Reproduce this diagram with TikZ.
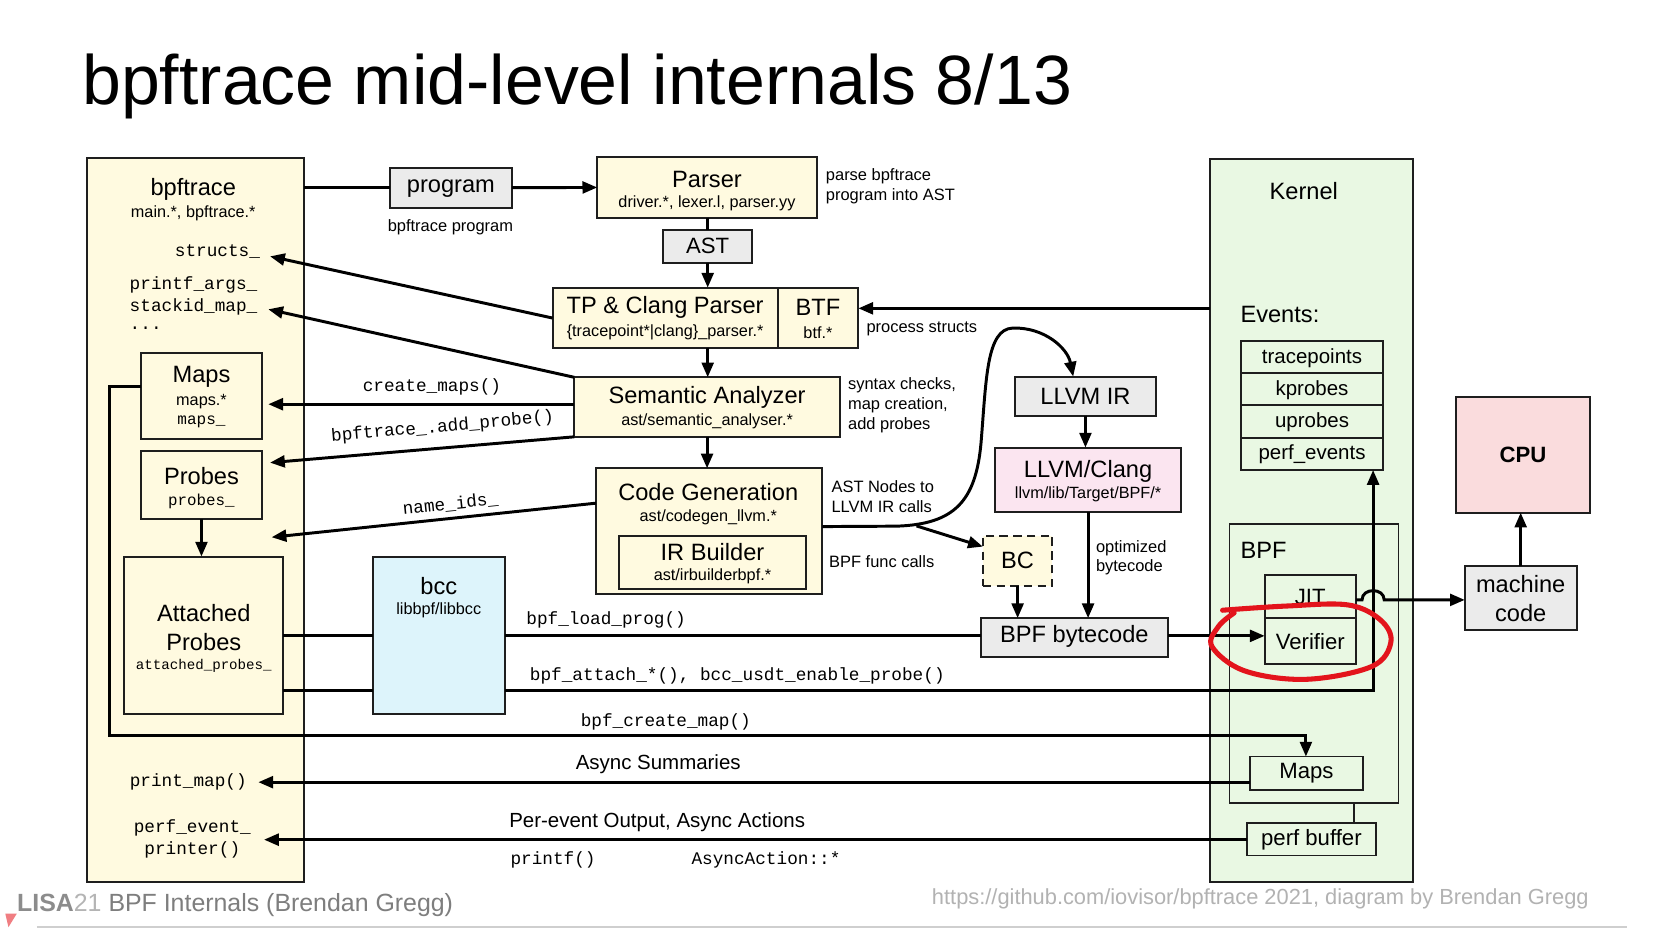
\documentclass[tikz,border=0pt]{standalone}
\usepackage{fontspec}
\setmainfont{Liberation Sans}
\setmonofont{Liberation Mono}
\usetikzlibrary{arrows.meta}
\definecolor{yel}{HTML}{FFFAE0}
\definecolor{gry}{HTML}{EBEBEB}
\definecolor{blu}{HTML}{DDF4FB}
\definecolor{grn}{HTML}{E9F8E3}
\definecolor{pnk}{HTML}{FBE5F0}
\definecolor{cpuc}{HTML}{FADCDD}
\definecolor{redc}{HTML}{E3141C}
\definecolor{edge}{HTML}{1E1E1E}
\definecolor{lisac}{HTML}{8C8C8C}
\definecolor{lisab}{HTML}{B4B4B4}
\definecolor{footc}{HTML}{7E7E7E}
\definecolor{urlc}{HTML}{B2B2B2}
\definecolor{rulec}{HTML}{CFCFCF}
\newcommand\fTitle{\fontsize{33.1pt}{37pt}\selectfont}
\newcommand\fMain{\fontsize{11.2pt}{13pt}\selectfont}
\newcommand\fSub{\fontsize{7.7pt}{9pt}\selectfont}
\newcommand\fMono{\fontsize{8.4pt}{10pt}\selectfont\ttfamily}
\newcommand\fNote{\fontsize{7.8pt}{9pt}\selectfont}
\newcommand\fMid{\fontsize{9.7pt}{11pt}\selectfont}
\newcommand\fKer{\fontsize{10.5pt}{12pt}\selectfont}
\begin{document}
\begin{tikzpicture}[x=0.5pt,y=-0.5pt,
  box/.style={draw=edge, line width=0.95pt, inner sep=0pt, outer sep=0pt},
  thinbox/.style={draw=edge, line width=0.8pt, inner sep=0pt, outer sep=0pt},
  lab/.style={inner sep=0pt, outer sep=0pt, text=black},
  conn/.style={draw=black, line width=1.4pt},
  arr/.style={conn, -{Triangle[length=7pt,width=5.6pt]}},
]
\useasboundingbox (0,0) rectangle (1568,882.6);
\fill[white] (0,0) rectangle (1568,882.6);

% title
\node[lab, anchor=base west, font=\fTitle] (title) at (78,99.5) {bpftrace mid-level internals 8/13};

% big containers
\node[box, fill=yel, minimum width=102.9pt, minimum height=342.9pt] (bpf) at (185.6,492.9) {};
\node[box, fill=grn, minimum width=96.3pt, minimum height=342.5pt] (kern) at (1243.3,493.2) {};

% boxes
\node[box, fill=gry, minimum width=57.8pt, minimum height=18.9pt] (prog) at (427.5,177.9) {};
\node[box, fill=yel, minimum width=104pt, minimum height=28.6pt] (parser) at (670.2,177.7) {};
\node[box, fill=gry, minimum width=42.2pt, minimum height=15.5pt] (ast) at (670.9,233.5) {};
\node[box, fill=yel, minimum width=106.7pt, minimum height=28.8pt] (tp) at (630.5,301.5) {};
\node[box, fill=yel, minimum width=38.3pt, minimum height=28.8pt] (btf) at (775.4,301.5) {};
\node[box, fill=yel, minimum width=125.9pt, minimum height=28.2pt] (sem) at (670.3,385.9) {};
\node[box, fill=yel, minimum width=107.3pt, minimum height=59.5pt] (cg) at (672.3,503.5) {};
\node[box, fill=yel, minimum width=88.7pt, minimum height=25.3pt] (irb) at (675.4,533) {};
\node[box, fill=yel, minimum width=57.7pt, minimum height=40.5pt] (maps) at (191,375.5) {};
\node[box, fill=yel, minimum width=57.7pt, minimum height=32pt] (probes) at (191,460) {};
\node[box, fill=yel, minimum width=75.4pt, minimum height=74.6pt] (att) at (193.2,602.2) {};
\node[box, fill=blu, minimum width=62.8pt, minimum height=74.3pt] (bcc) at (416,602.6) {};
\node[box, fill=gry, minimum width=67pt, minimum height=18.7pt] (llvmir) at (1029,375.7) {};
\node[box, fill=pnk, minimum width=88pt, minimum height=30.7pt] (clang) at (1031.5,455) {};
\node[box, fill=yel, dashed, dash pattern=on 4pt off 2.5pt, minimum width=33pt, minimum height=23.9pt] (bc) at (964.7,531.6) {};
\node[box, fill=gry, minimum width=88.8pt, minimum height=18.5pt] (bytecode) at (1018.5,604.5) {};
\node[box, fill=grn, minimum width=67.3pt, minimum height=15.3pt] (ev1) at (1243.8,338.5) {};
\node[box, fill=grn, minimum width=67.3pt, minimum height=15.3pt] (ev2) at (1243.8,369.1) {};
\node[box, fill=grn, minimum width=67.3pt, minimum height=15.3pt] (ev3) at (1243.8,399.7) {};
\node[box, fill=grn, minimum width=67.3pt, minimum height=15.3pt] (ev4) at (1243.8,430.3) {};
\node[thinbox, fill=grn, minimum width=80.2pt, minimum height=132.2pt] (bpfbox) at (1245.7,629.2) {};
\node[thinbox, fill=grn, minimum width=43.2pt, minimum height=20.6pt] (jit) at (1242.1,565.6) {};
\node[thinbox, fill=grn, minimum width=43.2pt, minimum height=21.8pt] (ver) at (1242.1,607.9) {};
\node[thinbox, fill=grn, minimum width=53.5pt, minimum height=15.8pt] (kmaps) at (1238.5,733) {};
\node[thinbox, fill=grn, minimum width=61.2pt, minimum height=15.3pt] (pbuf) at (1243.2,795.7) {};
\node[box, fill=gry, minimum width=53pt, minimum height=30.4pt] (mc) at (1441.6,566.9) {};
\node[box, fill=cpuc, minimum width=63.2pt, minimum height=55pt] (cpu) at (1443.9,431) {};

% named coordinates
\coordinate (structsTip) at (256,243);
\coordinate (stackTip) at (254.3,293.2);
\coordinate (cmTip) at (254.3,383.2);
\coordinate (apTip) at (256,438.6);
\coordinate (niTip) at (257.5,509.3);
\coordinate (niY) at (0,477);
\coordinate (pmTip) at (244.9,741.5);
\coordinate (peTip) at (250.3,796);
\coordinate (btfY) at (0,292.3);
\coordinate (mA) at (103.4,366);
\coordinate (mB) at (103.4,697.3);
\coordinate (mC) at (1238,697.3);
\coordinate (l1) at (0,602.8);
\coordinate (l2) at (0,654.7);
\coordinate (atC) at (1301.7,654.7);
\coordinate (split) at (868.9,498.6);
\coordinate (bcIn) at (931.7,518.2);
\coordinate (irIn) at (1017.4,357);
\coordinate (cgY) at (0,499.2);
\coordinate (hopY) at (0,568.7);
\coordinate (hopA) at (1291.2,568.7);
\coordinate (hopB) at (1312.2,568.7);

% connectors
\draw[conn] (bpf.east |- prog.west) -- (prog.west);
\draw[arr] (prog.east) -- (parser.west);
\draw[conn] (ast.north |- parser.south) -- (ast.north);
\draw[arr] (ast.south) -- (ast.south |- tp.north);
\draw[arr] (kern.west |- btfY) -- (btf.east |- btfY);
\draw[arr] (ast.south |- tp.south) -- (ast.south |- sem.north);
\draw[arr] (tp.west) -- (structsTip);
\draw[arr] (sem.north west) -- (stackTip);
\draw[arr] (sem.west |- cmTip) -- (cmTip);
\draw[arr] (sem.south west) -- (apTip);
\draw[arr] (sem.south) -- (sem.south |- cg.north);
\draw[arr] (cg.west |- niY) -- (niTip);
\draw[arr] (probes.south) -- (probes.south |- att.north);
\draw[arr] (maps.west |- mA) -- (mA) -- (mB) -- (mC) -- (kmaps.north -| mC);
\draw[conn] (att.east |- l1) -- (bcc.west |- l1);
\draw[conn] (att.east |- l2) -- (bcc.west |- l2);
\draw[conn] (bcc.east |- l1) -- (bytecode.west |- l1);
\draw[arr] (bcc.east |- l2) -- (atC) -- (atC |- ev4.south);
\draw[arr] (bytecode.east |- l1) -- (ver.west |- l1);
\draw[arr] (llvmir.south) -- (llvmir.south |- clang.north);
\draw[arr] (clang.south) -- (clang.south |- bytecode.north);
\draw[arr] (bc.south) -- (bc.south |- bytecode.north);
\draw[arr] (cg.east |- cgY) -- (850,498.8) .. controls (905,497) and (925,475) .. (930,420)
   .. controls (935,360) and (935,312) .. (960,311) .. controls (990,310) and (1012,330) .. (irIn);
\draw[arr] (split) -- (bcIn);
\draw[arr] (jit.east |- hopY) -- (hopA) .. controls (1291.2,557) and (1312.2,557) .. (hopB) -- (mc.west |- hopY);
\draw[arr] (mc.north) -- (mc.north |- cpu.south);
\draw[arr] (kmaps.west |- pmTip) -- (pmTip);
\draw[arr] (pbuf.west |- peTip) -- (peTip);
\draw[draw=edge, line width=0.8pt] ([xshift=20.1pt]pbuf.north) -- ([xshift=20.1pt]pbuf.north |- bpfbox.south);

% texts in bpftrace box
\node[lab, font=\fMain] (tBpf) at (183.2,179.5) {bpftrace};
\node[lab, font=\fSub] (tBpfS) at (183.2,202) {main.*, bpftrace.*};
\node[lab, font=\fMono, anchor=east] (tStructs) at (246.5,238) {structs\_};
\node[lab, font=\fMono, anchor=west] (tPrintf) at (123,270) {printf\_args\_};
\node[lab, font=\fMono, anchor=west] (tStack) at (123,291) {stackid\_map\_};
\node[lab, font=\fMono, anchor=west] (tDots) at (123,311) {...};
\node[lab, font=\fMain] (tMaps) at (191,357) {Maps};
\node[lab, font=\fSub] (tMapsS) at (191,381) {maps.*};
\node[lab, font=\fontsize{7.6pt}{9pt}\selectfont\ttfamily] (tMapsM) at (191,400) {maps\_};
\node[lab, font=\fMain] (tProbes) at (191,451) {Probes};
\node[lab, font=\fontsize{7.5pt}{9pt}\selectfont\ttfamily] (tProbesM) at (191,475) {probes\_};
\node[lab, font=\fMain] (tAtt1) at (193.2,580.7) {Attached};
\node[lab, font=\fMain] (tAtt2) at (193.2,608.2) {Probes};
\node[lab, font=\fontsize{6.7pt}{8pt}\selectfont\ttfamily] (tAttM) at (193.2,631) {attached\_probes\_};
\node[lab, font=\fMono] (tPrintMap) at (178.5,741) {print\_map()};
\node[lab, font=\fMono] (tPerf1) at (182.3,785) {perf\_event\_};
\node[lab, font=\fMono] (tPerf2) at (182.3,806) {printer()};

% bcc
\node[lab, font=\fMain] (tBcc) at (416,555.5) {bcc};
\node[lab, font=\fSub] (tBccS) at (416,578.8) {libbpf/libbcc};

% middle texts
\node[lab, font=\fMain] (tProg) at (427.5,178.5) {program};
\node[lab, font=\fNote] (tProgN) at (427,215) {bpftrace program};
\node[lab, font=\fMain] (tParser) at (670.2,169.7) {Parser};
\node[lab, font=\fSub] (tParserS) at (670.2,192.7) {driver.*, lexer.l, parser.yy};
\node[lab, font=\fNote, anchor=west] (nParse1) at (783,166.8) {parse bpftrace};
\node[lab, font=\fNote, anchor=west] (nParse2) at (783,186.4) {program into AST};
\node[lab, font=\fKer] (tAst) at (670.9,233.5) {AST};
\node[lab, font=\fMain] (tTp) at (630.5,291.6) {TP \& Clang Parser};
\node[lab, font=\fSub] (tTpS) at (630.5,315.3) {\{tracepoint*|clang\}\_parser.*};
\node[lab, font=\fMain] (tBtf) at (775.4,291.6) {BTF};
\node[lab, font=\fSub] (tBtfS) at (775.4,315.3) {btf.*};
\node[lab, font=\fNote, anchor=west] (nProc) at (821.5,311.5) {process structs};
\node[lab, font=\fMain] (tSem) at (670.3,376.6) {Semantic Analyzer};
\node[lab, font=\fSub] (tSemS) at (670.3,399.7) {ast/semantic\_analyser.*};
\node[lab, font=\fNote, anchor=west] (nSem1) at (804,365.6) {syntax checks,};
\node[lab, font=\fNote, anchor=west] (nSem2) at (804,384.5) {map creation,};
\node[lab, font=\fNote, anchor=west] (nSem3) at (804,403.5) {add probes};
\node[lab, font=\fMain] (tCg) at (671.4,466) {Code Generation};
\node[lab, font=\fSub] (tCgS) at (671.4,490.4) {ast/codegen\_llvm.*};
\node[lab, font=\fMain] (tIrb) at (675.4,523.5) {IR Builder};
\node[lab, font=\fSub] (tIrbS) at (675.4,546.6) {ast/irbuilderbpf.*};
\node[lab, font=\fNote, anchor=west] (nAst1) at (788.3,461.3) {AST Nodes to};
\node[lab, font=\fNote, anchor=west] (nAst2) at (788.3,480.3) {LLVM IR calls};
\node[lab, font=\fNote, anchor=west] (nFunc) at (786,532.4) {BPF func calls};
\node[lab, font=\fMono] (tCm) at (409.5,367) {create\_maps()};
\node[lab, font=\fMono, rotate=5] (tAp) at (419.5,405) {bpftrace\_.add\_probe()};
\node[lab, font=\fMono, rotate=6] (tNi) at (427,478) {name\_ids\_};
\node[lab, font=\fMono, anchor=west] (tLoad) at (499,587.7) {bpf\_load\_prog()};
\node[lab, font=\fMono, anchor=west] (tAttach) at (502.4,640.8) {bpf\_attach\_*(), bcc\_usdt\_enable\_probe()};
\node[lab, font=\fMono] (tCreate) at (631.2,684) {bpf\_create\_map()};
\node[lab, font=\fMid] (tAsync) at (624,724.2) {Async Summaries};
\node[lab, font=\fMid] (tPer) at (623,779.8) {Per-event Output, Async Actions};
\node[lab, font=\fMono, anchor=west] (tPrintf2) at (484,815.2) {printf()};
\node[lab, font=\fMono, anchor=west] (tAA) at (655.6,815.2) {AsyncAction::*};

% llvm side
\node[lab, font=\fMain] (tIr) at (1029,376) {LLVM IR};
\node[lab, font=\fMain] (tClang) at (1031.5,447) {LLVM/Clang};
\node[lab, font=\fSub] (tClangS) at (1031.5,468.2) {llvm/lib/Target/BPF/*};
\node[lab, font=\fMain] (tBc) at (964.7,530.8) {BC};
\node[lab, font=\fNote, anchor=west] (nOpt1) at (1039,519.7) {optimized};
\node[lab, font=\fNote, anchor=west] (nOpt2) at (1039,538.1) {bytecode};
\node[lab, font=\fMain] (tByte) at (1018.5,603.5) {BPF bytecode};

% kernel side
\node[lab, font=\fMain] (tKern) at (1236,181) {Kernel};
\node[lab, font=\fMain, anchor=west] (tEv) at (1176,298.6) {Events:};
\node[lab, font=\fMid] (tEv1) at (1243.8,339.5) {tracepoints};
\node[lab, font=\fMid] (tEv2) at (1243.8,369.8) {kprobes};
\node[lab, font=\fMid] (tEv3) at (1243.8,400.4) {uprobes};
\node[lab, font=\fMid] (tEv4) at (1243.8,431) {perf\_events};
\node[lab, font=\fMain, anchor=west] (tBpfK) at (1176,521.3) {BPF};
\node[lab, font=\fKer] (tJit) at (1242.1,565.6) {JIT};
\node[lab, font=\fKer] (tVer) at (1242.1,608.2) {Verifier};
\node[lab, font=\fKer] (tKmaps) at (1238.5,733) {Maps};
\node[lab, font=\fKer] (tPbuf) at (1243.2,796) {perf buffer};
\node[lab, font=\fMain] (tMc1) at (1441.6,553.5) {machine};
\node[lab, font=\fMain] (tMc2) at (1441.6,581) {code};
\node[lab, font=\fKer\bfseries] (tCpu) at (1443.9,431.3) {CPU};

% red scribble
\draw[redc, line width=2.4pt, line cap=round, line join=round]
  plot[smooth, tension=0.6] coordinates {(1159,578.5) (1220,574.5) (1278,573.5) (1309,588) (1318.5,609) (1300,632) (1238,644) (1180,636) (1149,613) (1155,594) (1170,581)};

% footer
\node[lab, anchor=west, font=\fontsize{11.8pt}{13pt}\selectfont] (foot1) at (16.3,857.8)
  {\textcolor{lisac}{\textbf{LISA}}\textcolor{lisab}{21} \textcolor{footc}{BPF Internals (Brendan Gregg)}};
\node[lab, anchor=east, font=\fontsize{10.35pt}{12pt}\selectfont, text=urlc] (foot2) at (1506,852.4)
  {https://github.com/iovisor/bpftrace 2021, diagram by Brendan Gregg};
\fill[redc!55] (5,866) -- (16,866) -- (8,879) -- cycle;
\draw[rulec, line width=0.7pt] (35,879) -- (1542,879);
\end{tikzpicture}
\end{document}
